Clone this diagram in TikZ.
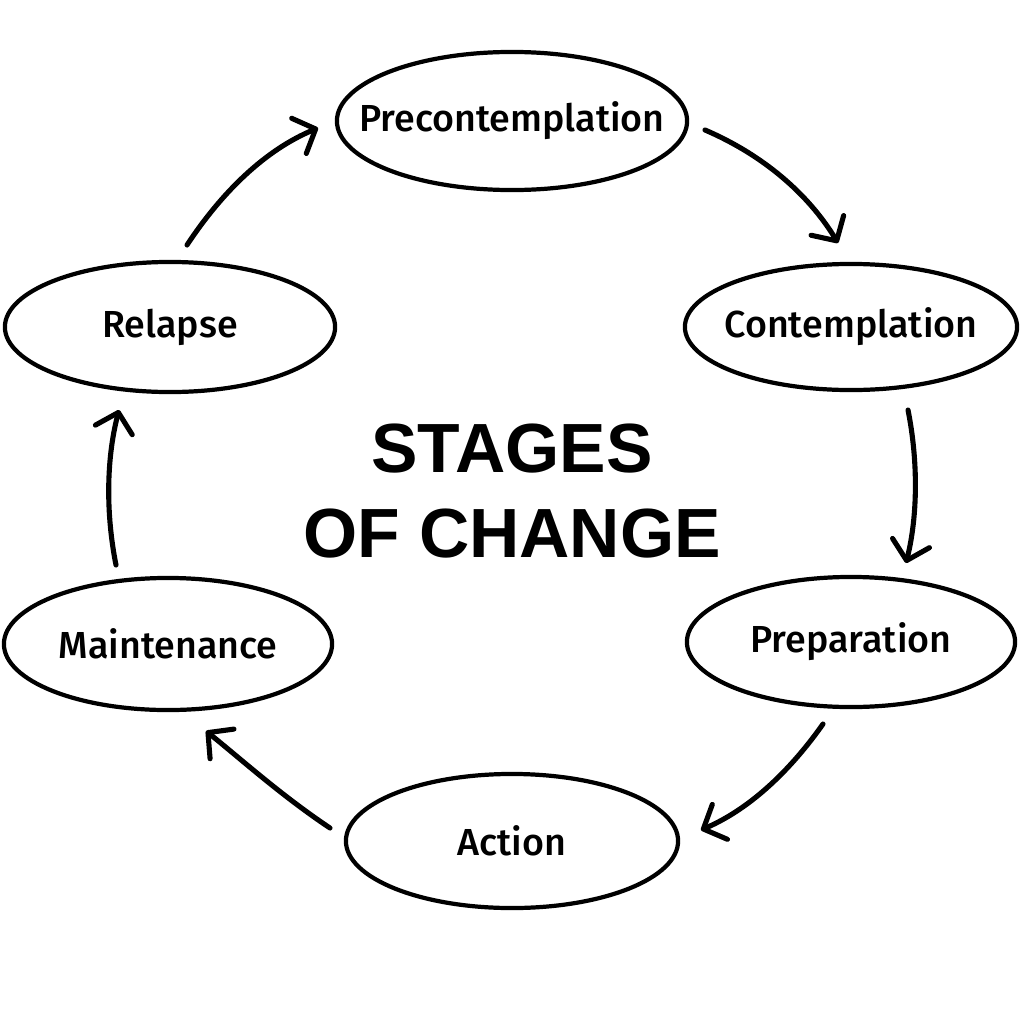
\documentclass[tikz,border=0pt]{standalone}
\usepackage{fontspec}
\newfontfamily\labfont{Fira Sans}[UprightFont={* Medium}]
\newfontfamily\titlefont{Liberation Sans}[UprightFont={* Bold}]
\usetikzlibrary{shapes.geometric,arrows.meta}
\newcommand{\zw}[1]{\makebox[0pt]{#1}}
\begin{document}
\begin{tikzpicture}[x=0.01cm,y=-0.01cm,
  stage/.style={ellipse,draw=black,line width=1.2pt,inner sep=0pt,
    font=\labfont\fontsize{10.7}{13}\selectfont},
  cyc/.style={line width=1.45pt,line cap=round,
    -{Straight Barb[length=1.8mm,width=3.8mm,round]}},
  ttl/.style={anchor=base,inner sep=0pt,font=\titlefont\fontsize{19.8}{24}\selectfont}]
\useasboundingbox (0,0) rectangle (1024,1024);
\fill[white] (0,0) rectangle (1024,1024);
\node[stage,minimum width=3.5cm,minimum height=1.38cm] (pre) at (512,121) {\zw{Precontemplation}};
\node[stage,minimum width=3.32cm,minimum height=1.26cm] (con) at (851,327) {\zw{Contemplation}};
\node[stage,minimum width=3.28cm,minimum height=1.30cm] (prep) at (851,642) {\zw{Preparation}};
\node[stage,minimum width=3.32cm,minimum height=1.34cm] (act) at (512,841) {\zw{Action}};
\node[stage,minimum width=3.28cm,minimum height=1.32cm] (main) at (168,644) {\zw{Maintenance}};
\node[stage,minimum width=3.30cm,minimum height=1.30cm] (rel) at (170,327) {\zw{Relapse}};
\node[ttl] (t1) at (512,472) {STAGES};
\node[ttl] (t2) at (512,557) {OF CHANGE};
\coordinate (a1s) at (705,130); \coordinate (a1e) at (838,243);
\coordinate (a2s) at (908,410); \coordinate (a2e) at (906,563);
\coordinate (a3s) at (823,724); \coordinate (a3e) at (701,830);
\coordinate (a4s) at (330,828); \coordinate (a4e) at (206,731);
\coordinate (a5s) at (116,565); \coordinate (a5e) at (119,410);
\coordinate (a6s) at (187,245); \coordinate (a6e) at (318,128);
\draw[cyc] (a1s) .. controls (770,158) and (812,200) .. (a1e);
\draw[cyc] (a2s) .. controls (918,460) and (918,515) .. (a2e);
\draw[cyc] (a3s) .. controls (792,768) and (752,808) .. (a3e);
\draw[cyc] (a4s) .. controls (282,796) and (242,760) .. (a4e);
\draw[cyc] (a5s) .. controls (106,515) and (106,460) .. (a5e);
\draw[cyc] (a6s) .. controls (222,192) and (265,150) .. (a6e);
\end{tikzpicture}
\end{document}
